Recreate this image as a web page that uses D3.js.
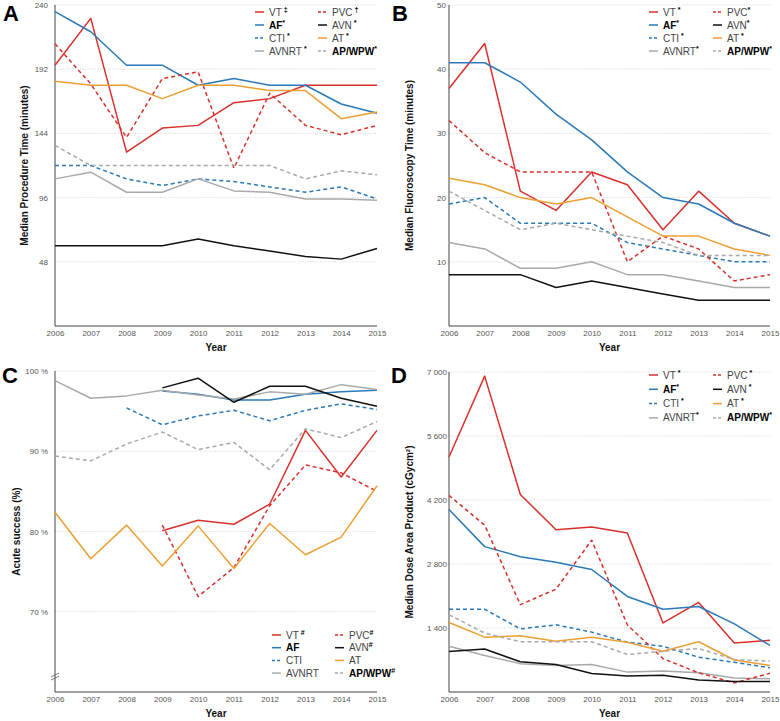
<!DOCTYPE html>
<html>
<head>
<meta charset="utf-8">
<script src="https://cdn.jsdelivr.net/npm/d3@7"></script>
<style>
  body { margin: 0; background: #fff; }
  svg { font-family: "Liberation Sans", Arial, sans-serif; }
</style>
</head>
<body>
<script>
const years = [2006, 2007, 2008, 2009, 2010, 2011, 2012, 2013, 2014, 2015];
const seriesNames = ["VT", "AF", "CTI", "AVNRT", "PVC", "AVN", "AT", "AP/WPW"];

// A: median procedure time (minutes)
const procedureTime = {
  "VT":     [195, 230, 130, 148, 150, 167, 170, 180, 180, 180],
  "AF":     [235, 220, 195, 195, 180, 185, 180, 180, 166, 159],
  "CTI":    [120, 120, 110, 105, 110, 108, 104, 100, 104, 95],
  "AVNRT":  [110, 115, 100, 100, 110, 101, 100, 95, 95, 94],
  "PVC":    [211, 181, 141, 185, 190, 118, 174, 150, 143, 150],
  "AVN":    [60, 60, 60, 60, 65, 60, 56, 52, 50, 58],
  "AT":     [183, 180, 180, 170, 180, 180, 176, 176, 155, 160],
  "AP/WPW": [135, 120, 120, 120, 120, 120, 120, 110, 116, 113]
};

// B: median fluoroscopy time (minutes)
const fluoroTime = {
  "VT":     [37, 44, 21, 18, 24, 22, 15, 21, 16, 14],
  "AF":     [41, 41, 38, 33, 29, 24, 20, 19, 16, 14],
  "CTI":    [19, 20, 16, 16, 16, 13, 12, 11, 10, 10],
  "AVNRT":  [13, 12, 9, 9, 10, 8, 8, 7, 6, 6],
  "PVC":    [32, 27, 24, 24, 24, 10, 14, 12, 7, 8],
  "AVN":    [8, 8, 8, 6, 7, 6, 5, 4, 4, 4],
  "AT":     [23, 22, 20, 19, 20, 17, 14, 14, 12, 11],
  "AP/WPW": [21, 18, 15, 16, 15, 14, 13, 11, 11, 11]
};

// C: acute success (%)
const acuteSuccess = {
  "VT":     [null, null, null, 80.1, 81.4, 80.9, 83.4, 92.6, 86.8, 92.6],
  "AF":     [null, null, null, 97.5, 97.1, 96.4, 96.4, 97.1, 97.4, 97.6],
  "CTI":    [null, null, 95.4, 93.3, 94.4, 95.1, 93.8, 95.1, 95.9, 95.2],
  "AVNRT":  [98.8, 96.6, 96.9, 97.6, 97.0, 96.5, 97.4, 97.1, 98.3, 97.7],
  "PVC":    [null, null, null, 80.8, 71.9, 75.5, 83.2, 88.3, 87.3, 85.0],
  "AVN":    [null, null, null, 97.9, 99.1, 96.1, 98.1, 98.1, 96.6, 95.6],
  "AT":     [82.4, 76.6, 80.8, 75.7, 80.7, 75.4, 81.0, 77.1, 79.3, 85.7],
  "AP/WPW": [89.4, 88.8, 90.9, 92.4, 90.2, 91.1, 87.7, 92.8, 91.7, 93.7]
};

// D: median dose area product (cGycm2)
const doseArea = {
  "VT":     [5140, 6910, 4320, 3550, 3610, 3480, 1510, 1960, 1070, 1130],
  "AF":     [3990, 3180, 2960, 2840, 2680, 2090, 1810, 1870, 1490, 1020],
  "CTI":    [1810, 1810, 1380, 1470, 1310, 1090, 1000, 760, 650, 530],
  "AVNRT":  [1000, 800, 620, 580, 600, 435, 460, 420, 305, 290],
  "PVC":    [4300, 3650, 1910, 2250, 3320, 1470, 730, 420, 200, 410],
  "AVN":    [885, 940, 660, 600, 405, 350, 365, 260, 230, 230],
  "AT":     [1520, 1200, 1230, 1110, 1200, 1090, 890, 1100, 700, 580],
  "AP/WPW": [1690, 1290, 1100, 1100, 1100, 820, 890, 950, 710, 675]
};

const ticksA = [48, 96, 144, 192, 240];
const ticksB = [10, 20, 30, 40, 50];
const ticksC = [70, 80, 90, 100];
const ticksD = [1400, 2800, 4200, 5600, 7000];

const marksA = {"VT": " \u2021", "AF": "*", "CTI": " *", "AVNRT": " *", "PVC": " \u2020", "AVN": " *", "AT": " *", "AP/WPW": "*"};
const marksB = {"VT": " *", "AF": "*", "CTI": " *", "AVNRT": "*", "PVC": "*", "AVN": "*", "AT": " *", "AP/WPW": "*"};
const marksC = {"VT": " #", "AF": "", "CTI": "", "AVNRT": "", "PVC": "#", "AVN": "#", "AT": "", "AP/WPW": "#"};
const marksD = {"VT": " *", "AF": "*", "CTI": " *", "AVNRT": "*", "PVC": " *", "AVN": " *", "AT": " *", "AP/WPW": "*"};

const style = {
  "VT":     {color: "#d8302b", dash: null},
  "AF":     {color: "#2a79b8", dash: null},
  "CTI":    {color: "#2a79b8", dash: "4,3"},
  "AVNRT":  {color: "#a9a9a9", dash: null},
  "PVC":    {color: "#d8302b", dash: "4,3"},
  "AVN":    {color: "#111111", dash: null},
  "AT":     {color: "#ee9f33", dash: null},
  "AP/WPW": {color: "#a9a9a9", dash: "4,3"}
};
const boldNames = ["AF", "AP/WPW"];

const svg = d3.select("body").append("svg")
  .attr("width", 780)
  .attr("height", 721);

const panels = [
  {letter: "A", data: procedureTime, ticks: ticksA, marks: marksA, domain: [0, 240],
   x0: 55, x1: 377, yTop: 5, yBot: 326, pad: 7, fmt: d => d,
   title: "Median Procedure Time (minutes)", titleX: 28,
   legend: {x: 269, y: 12, dy: 13, col: 63}, lx: 3, ly: 21},
  {letter: "B", data: fluoroTime, ticks: ticksB, marks: marksB, domain: [0, 50],
   x0: 449, x1: 770, yTop: 5, yBot: 326, pad: 3, fmt: d => d,
   title: "Median Fluoroscopy Time (minutes)", titleX: 413,
   legend: {x: 663, y: 12, dy: 13, col: 64}, lx: 392, ly: 21},
  {letter: "C", data: acuteSuccess, ticks: ticksC, marks: marksC, domain: [60, 100],
   x0: 55, x1: 377, yTop: 371, yBot: 692, pad: 7, fmt: d => d + " %",
   title: "Acute success (%)", titleX: 20, brk: true,
   legend: {x: 286, y: 635, dy: 12.7, col: 63}, lx: 2, ly: 383},
  {letter: "D", data: doseArea, ticks: ticksD, marks: marksD, domain: [0, 7000],
   x0: 449, x1: 770, yTop: 372, yBot: 692, pad: 2,
   fmt: d => d3.format(",")(d).replace(",", " "),
   title: "Median Dose Area Product (cGycm\u00b2)", titleX: 413,
   legend: {x: 663, y: 375, dy: 14.3, col: 64}, lx: 391, ly: 383}
];

panels.forEach(p => {
  const g = svg.append("g");
  const x = d3.scaleLinear().domain([2006, 2015]).range([p.x0, p.x1]);
  const y = d3.scaleLinear().domain(p.domain).range([p.yBot, p.yTop]);

  // gridlines
  g.selectAll(".grid").data(p.ticks).enter().append("line")
    .attr("x1", p.x0).attr("x2", p.x1)
    .attr("y1", d => y(d)).attr("y2", d => y(d))
    .attr("stroke", "#c8c8c8").attr("stroke-width", 0.8)
    .attr("stroke-dasharray", "1,1.5");

  // axes
  const ya = g.append("g").attr("transform", `translate(${p.x0},0)`)
    .call(d3.axisLeft(y).tickValues(p.ticks).tickSize(0).tickPadding(p.pad).tickFormat(p.fmt));
  ya.select(".domain").remove();
  ya.selectAll("text").attr("font-size", 8).attr("fill", "#555")
    .attr("font-family", "Liberation Sans, Arial, sans-serif");

  const xa = g.append("g").attr("transform", `translate(0,${p.yBot})`)
    .call(d3.axisBottom(x).tickValues(years).tickSize(0).tickPadding(4).tickFormat(d3.format("d")));
  xa.select(".domain").remove();
  xa.selectAll("text").attr("font-size", 8).attr("fill", "#555")
    .attr("font-family", "Liberation Sans, Arial, sans-serif");

  g.append("path")
    .attr("d", `M${p.x0},${p.yTop}V${p.yBot}H${p.x1}`)
    .attr("fill", "none").attr("stroke", "#444").attr("stroke-width", 1);

  if (p.brk) {
    const by = p.yBot - 17;
    [0, 3].forEach(o => {
      g.append("line")
        .attr("x1", p.x0 - 4).attr("y1", by + 2 + o)
        .attr("x2", p.x0 + 4).attr("y2", by - 2 + o)
        .attr("stroke", "#555").attr("stroke-width", 0.8);
    });
  }

  // lines
  const line = d3.line()
    .defined(d => d.v != null)
    .x(d => x(d.year)).y(d => y(d.v));

  seriesNames.forEach(name => {
    const vals = years.map((yr, i) => ({year: yr, v: p.data[name][i]}));
    g.append("path")
      .datum(vals)
      .attr("d", line)
      .attr("fill", "none")
      .attr("stroke", style[name].color)
      .attr("stroke-width", 1.5)
      .attr("stroke-linejoin", "round")
      .attr("stroke-dasharray", style[name].dash);
  });

  // titles
  g.append("text")
    .attr("transform", `translate(${p.titleX},${(p.yTop + p.yBot) / 2}) rotate(-90)`)
    .attr("text-anchor", "middle")
    .attr("font-size", 10).attr("font-weight", "bold").attr("fill", "#111")
    .text(p.title);

  g.append("text")
    .attr("x", (p.x0 + p.x1) / 2).attr("y", p.yBot + 25)
    .attr("text-anchor", "middle")
    .attr("font-size", 10).attr("font-weight", "bold").attr("fill", "#111")
    .text("Year");

  g.append("text")
    .attr("x", p.lx).attr("y", p.ly)
    .attr("font-size", 22).attr("font-weight", "bold").attr("fill", "#000")
    .text(p.letter);

  // legend
  const leg = g.append("g");
  seriesNames.forEach((name, i) => {
    const col = Math.floor(i / 4), row = i % 4;
    const tx = p.legend.x + col * p.legend.col;
    const ty = p.legend.y + row * p.legend.dy;
    leg.append("line")
      .attr("x1", tx - 14).attr("x2", tx - 5)
      .attr("y1", ty).attr("y2", ty)
      .attr("stroke", style[name].color).attr("stroke-width", 1.5)
      .attr("stroke-dasharray", style[name].dash ? "3,2" : null);
    const bold = boldNames.includes(name);
    const t = leg.append("text")
      .attr("x", tx).attr("y", ty + 3.5)
      .attr("font-size", 10)
      .attr("fill", bold ? "#000" : "#444")
      .attr("font-weight", bold ? "bold" : "normal");
    t.append("tspan").text(name);
    t.append("tspan").attr("dy", -4).attr("font-size", 7).attr("font-weight", "bold")
      .attr("fill", "#000").text(p.marks[name]);
  });
});
</script>
</body>
</html>
